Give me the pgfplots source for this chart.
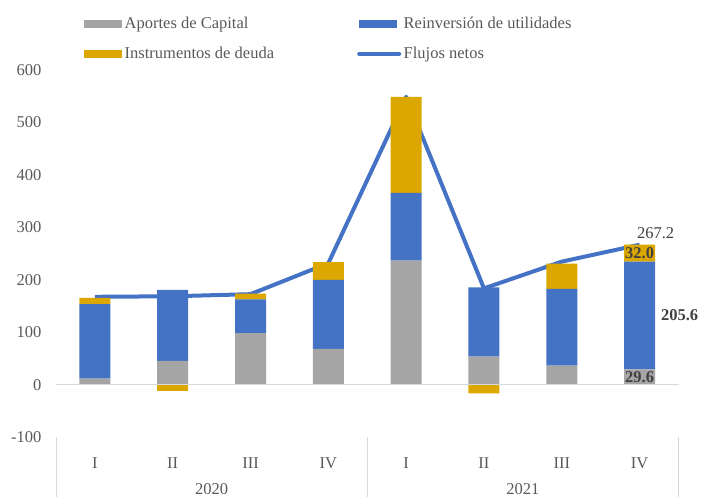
\documentclass[border=0pt]{standalone}
\usepackage{pgfplots}
\pgfplotsset{compat=1.18}
\usepackage{fontspec}
\setmainfont{Liberation Serif}
\definecolor{cgray}{HTML}{A5A5A5}
\definecolor{cblue}{HTML}{4472C4}
\definecolor{cgold}{HTML}{DCA700}
\definecolor{ctxt}{HTML}{595959}
\definecolor{clab}{HTML}{404040}
\definecolor{cline}{HTML}{D9D9D9}
\pgfplotsset{
  barleg/.style={legend image code/.code={\fill[##1,draw=none] (0pt,-4pt) rectangle (38pt,4pt);}},
  lineleg/.style={legend image code/.code={\draw[##1,line width=4pt,line cap=round] (0pt,0pt) -- (40pt,0pt);}},
}
\begin{document}
\begin{tikzpicture}[font=\fontsize{16.5}{19}\selectfont]
\begin{axis}[
  scale only axis, width=622.5pt, height=367.5pt,
  xmin=-0.5, xmax=7.5, ymin=-100, ymax=600,
  ytick={-100,0,100,200,300,400,500,600},
  xtick={0,1,2,3,4,5,6,7},
  xticklabels={I,II,III,IV,I,II,III,IV},
  axis line style={draw=none},
  major tick length=0pt,
  /pgf/number format/assume math mode=true,
  ticklabel style={text=ctxt},
  yticklabel style={xshift=-11pt},
  xticklabel style={yshift=-17pt},
  ybar stacked, bar width=31pt,
  clip=false,
  legend columns=2,
  legend style={at={(0,1)}, anchor=north west, xshift=28pt, yshift=54pt,
    draw=none, inner sep=0pt, row sep=15pt, text=ctxt,
    nodes={inner ysep=1pt, inner xsep=2.5pt}},
  legend cell align=left,
]
\draw[cline, line width=1pt] (axis cs:-0.5,0) -- (axis cs:7.5,0);
\addplot[fill=cgray, draw=none, barleg] coordinates {(0,12) (1,46) (2,99) (3,69) (4,237) (5,54) (6,37) (7,29.6)};
\addplot[fill=cblue, draw=none, barleg] coordinates {(0,142) (1,135) (2,64) (3,131) (4,129) (5,132) (6,146) (7,205.6)};
\addplot[fill=cgold, draw=none, barleg] coordinates {(0,12) (1,-11) (2,11) (3,34) (4,183) (5,-16) (6,48) (7,32.0)};
\addplot[stack plots=false, sharp plot, cblue, line width=4pt, line join=round, mark=none, lineleg]
  coordinates {(0,168) (1,169) (2,173) (3,232) (4,549) (5,184) (6,235) (7,267.2)};
\legend{\makebox[230pt][l]{Aportes de Capital},Reinversión de utilidades,Instrumentos de deuda,Flujos netos}
\coordinate (lnet) at (axis cs:7,267.2);
\coordinate (lgold) at (axis cs:7,251.2);
\coordinate (lblue) at (axis cs:7,132.4);
\coordinate (lgray) at (axis cs:7,14.8);
\coordinate (s0) at (axis cs:-0.5,-100);
\coordinate (s1) at (axis cs:3.5,-100);
\coordinate (s2) at (axis cs:7.5,-100);
\coordinate (y0) at (axis cs:1.5,-100);
\coordinate (y1) at (axis cs:5.5,-100);
\end{axis}
\node[text=clab, anchor=south] at ([shift={(16pt,2pt)}]lnet) {267.2};
\node[text=clab, font=\fontsize{16.5}{19}\selectfont\bfseries] at (lgold) {32.0};
\node[text=clab, font=\fontsize{16.5}{19}\selectfont\bfseries] at ([xshift=40pt]lblue) {205.6};
\node[text=clab, font=\fontsize{16.5}{19}\selectfont\bfseries] at (lgray) {29.6};
\draw[cline, line width=1pt] (s0) -- ++(0,-59.5pt);
\draw[cline, line width=1pt] (s1) -- ++(0,-59.5pt);
\draw[cline, line width=1pt] (s2) -- ++(0,-59.5pt);
\node[text=ctxt] at ([yshift=-51.5pt]y0) {2020};
\node[text=ctxt] at ([yshift=-51.5pt]y1) {2021};
\pgfresetboundingbox
\path ([shift={(-56pt,-59.5pt)}]current axis.south west) rectangle ([shift={(22.5pt,70pt)}]current axis.north east);
\end{tikzpicture}
\end{document}
